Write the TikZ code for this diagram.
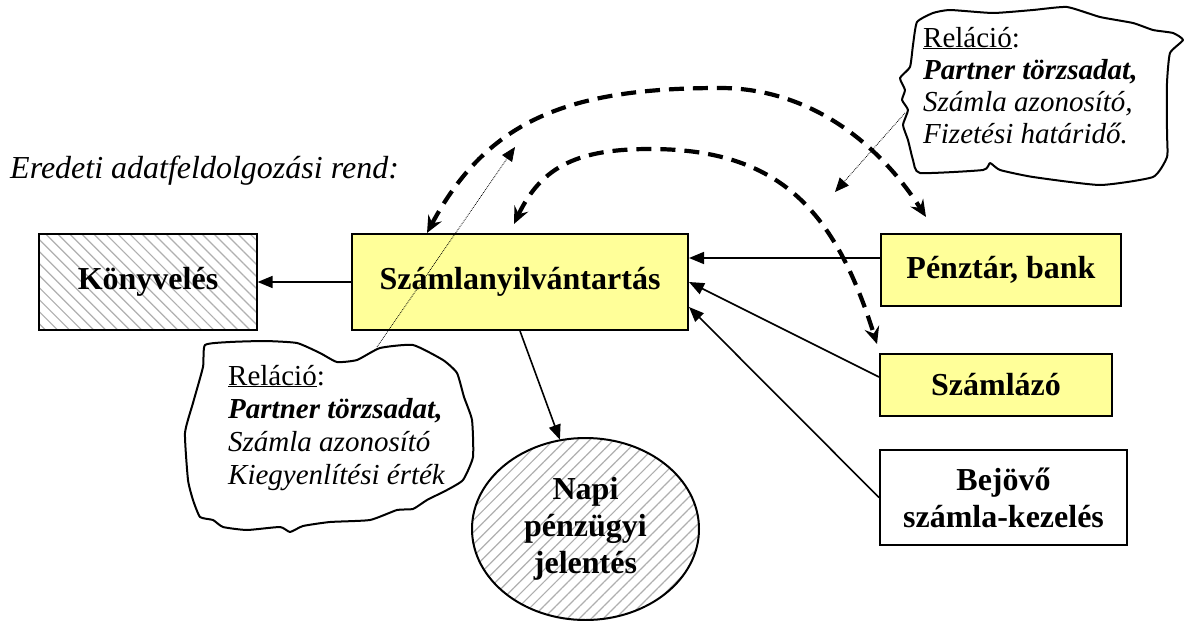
\documentclass[tikz,border=0pt]{standalone}
\usepackage{fontspec}
\setmainfont{Liberation Serif}
\usetikzlibrary{arrows.meta,patterns.meta,shapes.geometric}
\definecolor{boxyellow}{RGB}{255,255,153}
\definecolor{hatchgray}{RGB}{175,175,175}

\begin{document}
\begin{tikzpicture}[x=1pt,y=-1pt,
  box/.style={draw=black, line width=2pt, inner sep=0pt, align=center,
    font=\bfseries\fontsize{32}{37}\selectfont},
  yellowbox/.style={box, fill=boxyellow},
  hatched/.style={pattern={Lines[angle=#1,distance=8.5pt,line width=1.2pt]},
    pattern color=hatchgray},
  flow/.style={line width=1.6pt, -{Triangle[length=15pt,width=12pt]}},
  link/.style={line width=4.2pt, dash pattern=on 15pt off 9pt,
    {Stealth[length=17pt,width=15pt,inset=6pt]}-{Stealth[length=17pt,width=15pt,inset=6pt]}},
  note/.style={line width=0.8pt, densely dotted, -{Triangle[length=14pt,width=12pt]}},
  cloud/.style={draw=black, line width=2pt, fill=white, line join=round},
  cloudtext/.style={anchor=base west, inner sep=0pt, font=\fontsize{29}{33}\selectfont},
]
\useasboundingbox (0,0) rectangle (1184,621);

% heading
\node[anchor=base west, inner sep=0pt, font=\itshape\fontsize{32}{37}\selectfont]
  (title) at (10,178) {Eredeti adatfeldolgozási rend:};

% blocks
\node[box, hatched=-45, minimum width=218pt, minimum height=96pt]
  (konyv) at (148,282) {Könyvelés};
\node[yellowbox, minimum width=336pt, minimum height=96pt]
  (szla) at (520,282) {Számlanyilvántartás};
\node[yellowbox, minimum width=240pt, minimum height=72pt]
  (penz) at (1001,270) {Pénztár, bank};
\node[yellowbox, minimum width=232pt, minimum height=62pt]
  (szlz) at (996,385) {Számlázó};
\node[box, fill=white, minimum width=247pt, minimum height=95pt]
  (bej) at (1003.5,497.5) {Bejövő\\számla-kezelés};
\node[box, ellipse, hatched=45, minimum width=227pt, minimum height=182pt]
  (napi) at (585.5,529) {Napi\\pénzügyi\\jelentés};

% note clouds
\draw[cloud] plot[smooth cycle, tension=0.3] coordinates {
  (205,345) (230,342) (265,341) (297,343) (320,353) (337,362) (357,360)
  (380,348) (413,345) (443,360) (457,373) (464,397) (472,420) (473,457)
  (463,480) (447,490) (427,500) (413,509) (397,510) (370,520) (330,522)
  (303,526) (290,532) (280,527) (247,530) (223,527) (213,520) (200,517)
  (193,500) (188,480) (185,433) (193,403) (203,367)};
\draw[cloud] plot[smooth cycle, tension=0.3] coordinates {
  (917,22) (933,13) (950,10) (993,13) (1033,10) (1067,7) (1100,17)
  (1133,23) (1153,30) (1173,33) (1183,40) (1170,53) (1167,83) (1167,133)
  (1167,157) (1153,177) (1100,185) (1033,177) (1000,170) (990,163)
  (983,170) (920,173) (913,160) (908,140) (903,125) (908,110) (902,100)
  (905,90) (900,78) (910,67) (913,45)};

\node[cloudtext] (n1a) at (228,385) {\underline{Reláció}:};
\node[cloudtext] (n1b) at (228,418) {\bfseries\itshape Partner törzsadat,};
\node[cloudtext] (n1c) at (228,451) {\itshape Számla azonosító};
\node[cloudtext] (n1d) at (228,484) {\itshape Kiegyenlítési érték};

\node[cloudtext] (n2a) at (923,47) {\underline{Reláció}:};
\node[cloudtext] (n2b) at (923,79) {\bfseries\itshape Partner törzsadat,};
\node[cloudtext] (n2c) at (923,111) {\itshape Számla azonosító,};
\node[cloudtext] (n2d) at (923,143) {\itshape Fizetési határidő.};

% data flows
\draw[flow] (szla.west) -- (konyv.east);
\draw[flow] ([yshift=12pt]penz.west) -- ([yshift=24pt]szla.east);
\draw[flow] ([yshift=8pt]szlz.west) -- (szla.east);
\draw[flow] (bej.west) -- ([yshift=-25pt]szla.east);
\draw[flow] (szla.south) -- (napi.106);

% relation links
\coordinate (arcA) at (720,88);
\coordinate (arcB) at (650,149);
\draw[link] ([xshift=76pt]szla.north west)
  .. controls +(61,-114) and +(-150,0) .. (arcA)
  .. controls +(80,0) and +(-54,-84) .. ([xshift=46pt,yshift=16pt]penz.north west);
\draw[link] ([xshift=163pt,yshift=9pt]szla.north west)
  .. controls +(28,-59) and +(-70,0) .. (arcB)
  .. controls +(130,0) and +(-42,-133) .. ([xshift=-2pt,yshift=9pt]szlz.north west);

% note pointers
\coordinate (c1p) at (377,347);
\coordinate (c1t) at (515,147);
\coordinate (c2p) at (905,113);
\coordinate (c2t) at (835,192);
\draw[note] (c1p) -- (c1t);
\draw[note] (c2p) -- (c2t);
\end{tikzpicture}
\end{document}
